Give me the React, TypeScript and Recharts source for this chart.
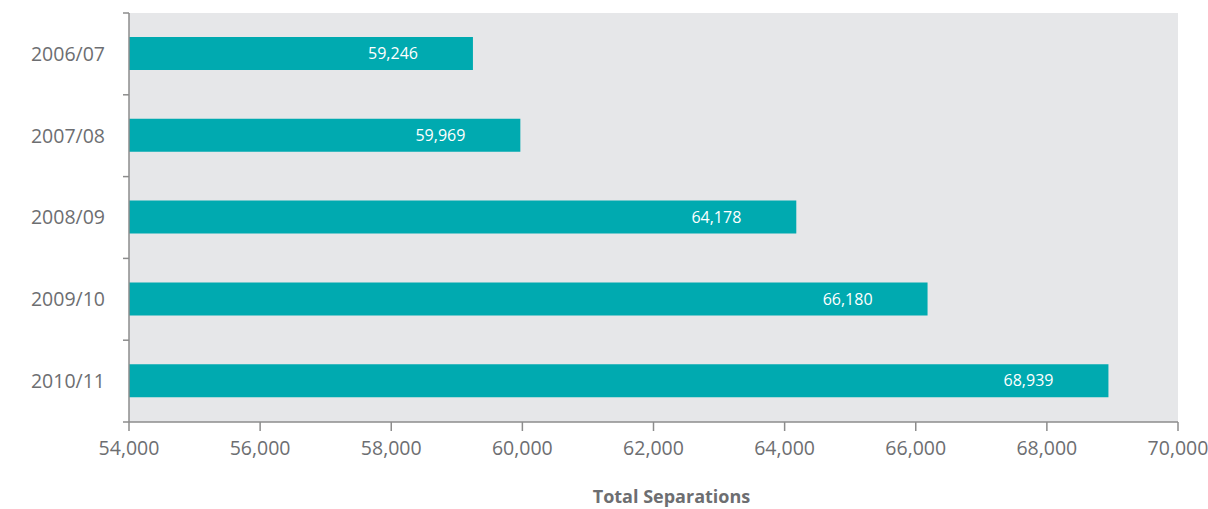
import { BarChart, Bar, XAxis, YAxis, CartesianGrid, LabelList } from "recharts";

const years = ["2006/07", "2007/08", "2008/09", "2009/10", "2010/11"];
const separations = [59246, 59969, 64178, 66180, 68939];
const xTicks = [54000, 56000, 58000, 60000, 62000, 64000, 66000, 68000, 70000];

const data = years.map((year, i) => ({ year, value: separations[i] }));

const TEAL = "#00aab0";
const PANEL = "#e6e7e9";
const AXIS = "#8c8c8c";
const TEXT = "#6d6e71";
const FONT = "'Open Sans', sans-serif";

const TOP = 13;
const PLOT_H = 409;
const BAND = PLOT_H / years.length;

function YearTick(props: any) {
  const { x, y, payload, index } = props;
  const edge = y - BAND / 2;
  return (
    <g>
      <line x1={x - 6} x2={x} y1={edge} y2={edge} stroke={AXIS} strokeWidth={1.5} />
      {index === years.length - 1 && (
        <line x1={x - 6} x2={x} y1={y + BAND / 2} y2={y + BAND / 2} stroke={AXIS} strokeWidth={1.5} />
      )}
      <text
        x={x - 24}
        y={y}
        dy="0.35em"
        textAnchor="end"
        fill={TEXT}
        fontSize={19.5}
        fontFamily={FONT}
      >
        {payload.value}
      </text>
    </g>
  );
}

export default function App() {
  return (
    <div style={{ position: "absolute", left: 0, top: 0, background: "#fff" }}>
      <BarChart
        width={1208}
        height={509}
        data={data}
        layout="vertical"
        margin={{ top: TOP, right: 30, bottom: 0, left: 0 }}
      >
        <CartesianGrid fill={PANEL} horizontal={false} vertical={false} />
        <XAxis
          type="number"
          dataKey="value"
          domain={[54000, 70000]}
          ticks={xTicks}
          allowDataOverflow
          height={87}
          tickSize={9}
          tickMargin={10}
          stroke={AXIS}
          axisLine={{ stroke: AXIS, strokeWidth: 1.5 }}
          tickLine={{ stroke: AXIS, strokeWidth: 1.5 }}
          tick={{ fill: TEXT, fontSize: 19.5, fontFamily: FONT }}
          tickFormatter={(v: number) => v.toLocaleString("en-US")}
          label={{
            value: "Total Separations",
            position: "insideBottom",
            offset: 6,
            dx: 18,
            fill: TEXT,
            fontSize: 18,
            fontWeight: 700,
            fontFamily: FONT,
          }}
        />
        <YAxis
          type="category"
          dataKey="year"
          width={129}
          tickSize={0}
          tickMargin={0}
          tickLine={false}
          axisLine={{ stroke: AXIS, strokeWidth: 1.5 }}
          tick={<YearTick />}
          interval={0}
        />
        <Bar dataKey="value" fill={TEAL} barSize={33} isAnimationActive={false}>
          <LabelList
            dataKey="value"
            position="insideRight"
            offset={55}
            fill="#ffffff"
            fontSize={16}
            fontFamily={FONT}
            formatter={(v: any) => Number(v).toLocaleString("en-US")}
          />
        </Bar>
      </BarChart>
    </div>
  );
}
